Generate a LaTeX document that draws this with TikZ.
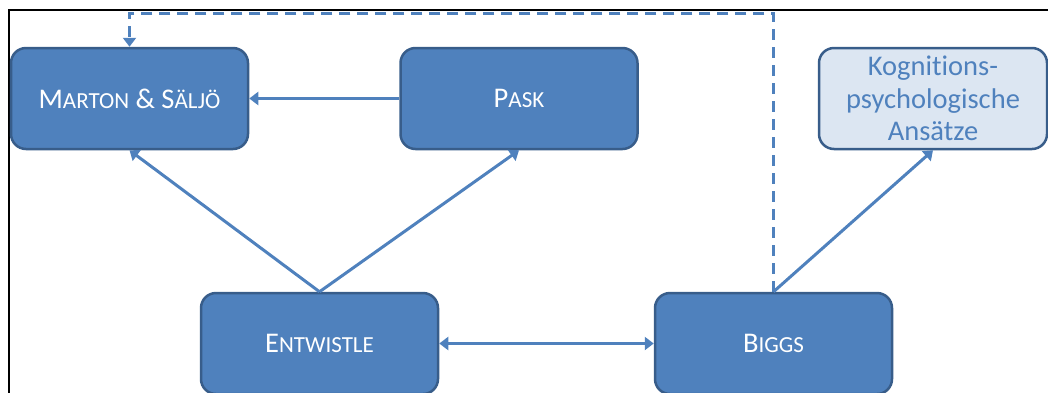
\documentclass[tikz,border=0pt]{standalone}
\usepackage{fontspec}
\setmainfont{Carlito}[Ligatures=NoCommon]
\usetikzlibrary{arrows.meta}

\definecolor{boxblue}{HTML}{4F81BD}
\definecolor{boxline}{HTML}{385D8A}
\definecolor{boxlight}{HTML}{DCE6F2}
\newcommand{\scs}{\fontsize{23}{26}\selectfont}

\begin{document}
\begin{tikzpicture}[x=1pt,y=-1pt,
  >={Triangle[length=9pt,width=13pt]},
  author/.style={draw=boxline, line width=2.5pt, fill=boxblue, rounded corners=15pt,
    minimum width=237pt, minimum height=101pt, text=white,
    font=\fontsize{28.5}{32.5}\selectfont},
  theory/.style={author, fill=boxlight, text=boxblue, minimum width=228pt, align=center},
  link/.style={draw=boxblue, line width=3pt},
  feedback/.style={link, dash pattern=on 11pt off 7pt}]
\useasboundingbox (0,0) rectangle (1048,392);
\clip (0,0) rectangle (1048,392);
\draw[line width=2pt] (9,420) |- (1070,10);

\node[author] (marton) at (129.5,98.5) {M{\scs ARTON} \& S{\scs ÄLJÖ}};
\node[author] (pask) at (519,98.5) {P{\scs ASK}};
\node[theory] (kog) at (933,98.5) {Kognitions-\\psychologische\\Ansätze};
\node[author] (entw) at (319.5,343.5) {E{\scs NTWISTLE}};
\node[author] (biggs) at (773.5,343.5) {B{\scs IGGS}};
\coordinate (top) at (0,13);

\draw[link,->] (pask) -- (marton);
\draw[link,->] (entw.north) -- (marton.south);
\draw[link,->] (entw.north) -- (pask.south);
\draw[link,->] (biggs.north) -- (kog.south);
\draw[link,<->] (entw) -- (biggs);
\draw[feedback,->] (biggs.north) -- (biggs.north |- top) -| (marton.north);
\end{tikzpicture}
\end{document}
